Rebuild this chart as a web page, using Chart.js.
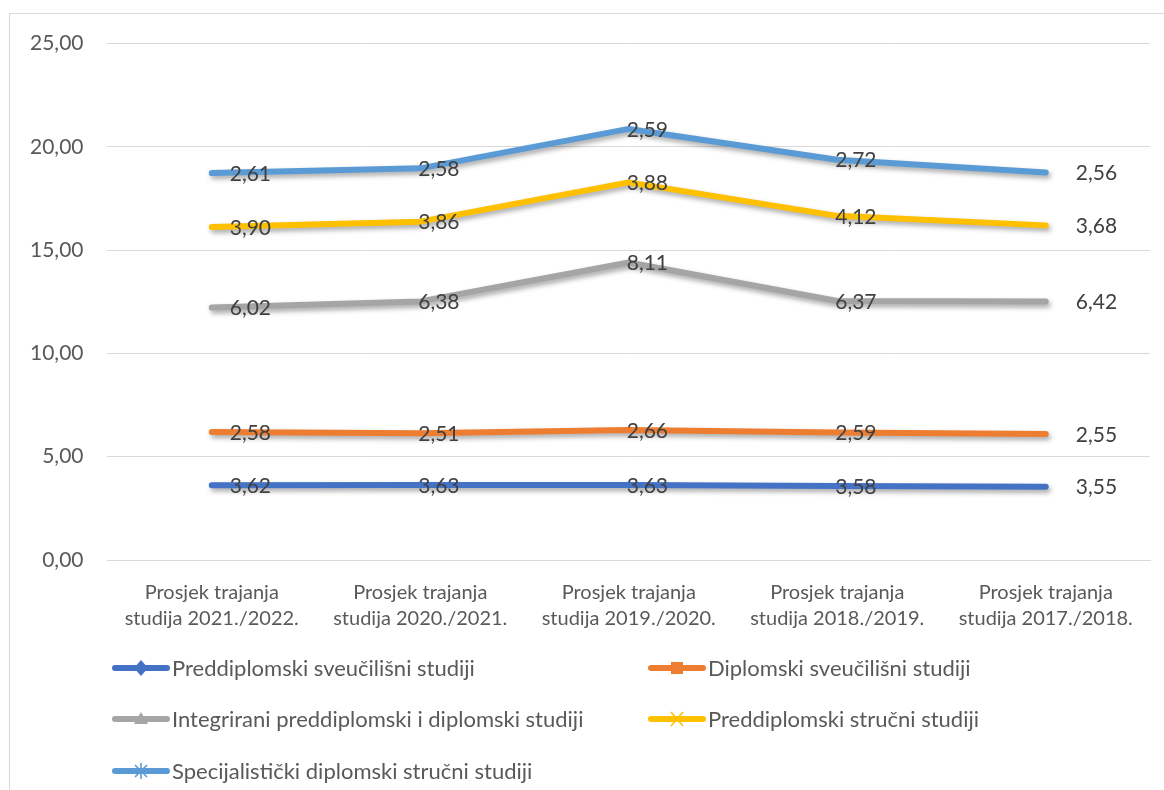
<!DOCTYPE html>
<html>
<head>
<meta charset="utf-8">
<script src="https://cdn.jsdelivr.net/npm/chart.js@4.4.1/dist/chart.umd.min.js"></script>
<style>
  body { margin: 0; background: #fff; font-family: Lato, sans-serif; }
  #wrap { position: relative; width: 1164px; height: 790px; overflow: hidden; }
  #frame { position: absolute; left: 9px; top: 13px; width: 1200px; height: 900px; border: 1px solid #d9d9d9; box-sizing: border-box; border-width: 1px 0 0 1px; }
  #box { position: absolute; left: 0; top: 7px; width: 1164px; height: 783px; }
  .leg { position: absolute; display: flex; align-items: center; font-size: 22px; color: #595959; white-space: nowrap; }
  .leg svg { margin-right: 2px; }
</style>
</head>
<body>
<div id="wrap">
  <div id="frame"></div>
  <div id="box"><canvas id="chart"></canvas></div>
  <div id="legend"></div>
</div>
<script>
const categories = [
  ["Prosjek trajanja", "studija 2021./2022."],
  ["Prosjek trajanja", "studija 2020./2021."],
  ["Prosjek trajanja", "studija 2019./2020."],
  ["Prosjek trajanja", "studija 2018./2019."],
  ["Prosjek trajanja", "studija 2017./2018."]
];
const seriesNames = [
  "Preddiplomski sveučilišni studiji",
  "Diplomski sveučilišni studiji",
  "Integrirani preddiplomski i diplomski studiji",
  "Preddiplomski stručni studiji",
  "Specijalistički diplomski stručni studiji"
];
const preddiplomskiSveucilisni = [3.62, 3.63, 3.63, 3.58, 3.55];
const diplomskiSveucilisni = [2.58, 2.51, 2.66, 2.59, 2.55];
const integrirani = [6.02, 6.38, 8.11, 6.37, 6.42];
const preddiplomskiStrucni = [3.90, 3.86, 3.88, 4.12, 3.68];
const specijalisticki = [2.61, 2.58, 2.59, 2.72, 2.56];
const colors = ["#4472C4", "#ED7D31", "#A5A5A5", "#FFC000", "#5B9BD5"];
const markers = ["diamond", "square", "triangle", "cross", "star"];

const allSeries = [preddiplomskiSveucilisni, diplomskiSveucilisni, integrirani, preddiplomskiStrucni, specijalisticki];

// odmak oznaka vrijednosti po stupcu (px)
const labelShift = [18, -2, -2, -2, 30];

function fmt(v, d) {
  return v.toFixed(d).replace(".", ",");
}

const shadowPlugin = {
  id: "shadow",
  beforeDatasetDraw(chart) {
    const c = chart.ctx;
    c.save();
    c.shadowColor = "rgba(0,0,0,0.35)";
    c.shadowBlur = 5;
    c.shadowOffsetX = 2;
    c.shadowOffsetY = 3;
  },
  afterDatasetDraw(chart) {
    chart.ctx.restore();
  }
};

const valueLabels = {
  id: "valueLabels",
  afterDatasetsDraw(chart) {
    const c = chart.ctx;
    c.save();
    c.font = "21px Lato, sans-serif";
    c.fillStyle = "#404040";
    c.textAlign = "left";
    c.textBaseline = "middle";
    chart.data.datasets.forEach((ds, i) => {
      chart.getDatasetMeta(i).data.forEach((pt, j) => {
        c.fillText(fmt(ds.data[j], 2), pt.x + labelShift[j], pt.y + 1);
      });
    });
    c.restore();
  }
};

new Chart(document.getElementById("chart"), {
  type: "line",
  data: {
    labels: categories,
    datasets: allSeries.map((d, i) => ({
      label: seriesNames[i],
      data: d,
      borderColor: colors[i],
      backgroundColor: colors[i],
      borderWidth: 6,
      pointRadius: 0,
      tension: 0,
      fill: false,
      borderCapStyle: "round",
      borderJoinStyle: "round"
    }))
  },
  options: {
    responsive: true,
    maintainAspectRatio: false,
    animation: false,
    layout: { padding: { top: 36, right: 14, bottom: 146, left: 6 } },
    plugins: { legend: { display: false }, tooltip: { enabled: false } },
    scales: {
      x: {
        offset: true,
        grid: { display: false },
        border: { color: "#d9d9d9", width: 1 },
        ticks: { color: "#595959", font: { family: "Lato", size: 20, lineHeight: 1.3 }, padding: 12, maxRotation: 0 }
      },
      y: {
        stacked: true,
        min: 0,
        max: 25,
        grid: { color: "#d9d9d9", drawTicks: false },
        border: { display: false },
        ticks: {
          stepSize: 5,
          color: "#595959",
          font: { family: "Lato", size: 21 },
          padding: 24,
          callback: v => fmt(v, 2)
        }
      }
    }
  },
  plugins: [shadowPlugin, valueLabels]
});

// legenda
function markerSvg(type, color) {
  let m = "";
  if (type === "diamond") m = `<polygon points="29,2 36,10 29,18 22,10" fill="${color}"/>`;
  if (type === "square") m = `<rect x="23" y="4" width="12" height="12" fill="${color}"/>`;
  if (type === "triangle") m = `<polygon points="29,3 36,15 22,15" fill="${color}"/>`;
  if (type === "cross") m = `<path d="M23,3 L35,17 M35,3 L23,17" stroke="${color}" stroke-width="1.6"/>`;
  if (type === "star") m = `<path d="M23,4 L35,16 M35,4 L23,16" stroke="#ffffff" stroke-width="0"/><path d="M23,4 L35,16 M35,4 L23,16 M29,2 L29,18" stroke="${color}" stroke-width="1.6"/>`;
  return `<svg width="58" height="20"><line x1="3" y1="10" x2="55" y2="10" stroke="${color}" stroke-width="6" stroke-linecap="round"/>${m}</svg>`;
}
const legendPos = [[112, 668], [648, 668], [112, 719], [648, 719], [112, 771]];
const legend = document.getElementById("legend");
seriesNames.forEach((name, i) => {
  const el = document.createElement("div");
  el.className = "leg";
  el.style.left = legendPos[i][0] + "px";
  el.style.top = (legendPos[i][1] - 14) + "px";
  el.innerHTML = markerSvg(markers[i], colors[i]) + "<span>" + name + "</span>";
  legend.appendChild(el);
});
</script>
</body>
</html>
